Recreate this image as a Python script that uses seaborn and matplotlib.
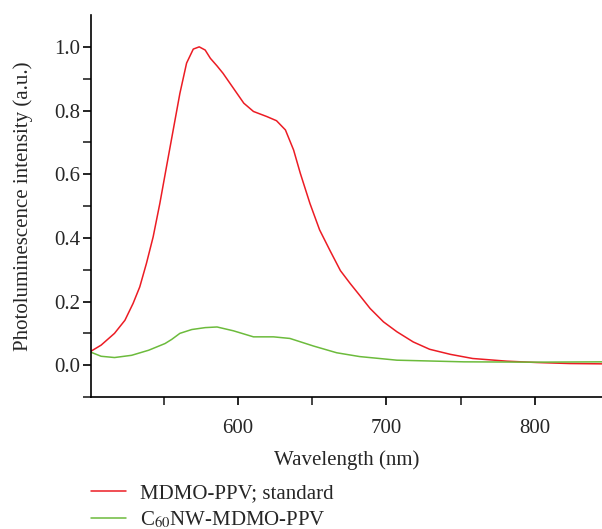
import numpy as np
import pandas as pd
import matplotlib
matplotlib.use("Agg")
import matplotlib.pyplot as plt
import seaborn as sns

# values
wl_std = [500.5, 508, 517, 524, 529.5, 534, 538.5, 543, 547.5, 552, 556.5, 561, 565.5,
          570, 574, 578, 581.5, 586, 590, 597, 604, 610.5, 619.5, 626, 632, 637.5, 642,
          648.5, 655, 662, 669, 675.5, 681, 689, 698, 707, 718, 729, 743, 758, 781, 801,
          823, 845]
pl_std = [0.042, 0.063, 0.10, 0.141, 0.194, 0.246, 0.32, 0.403, 0.508, 0.624, 0.739,
          0.854, 0.949, 0.993, 1.0, 0.99, 0.964, 0.94, 0.917, 0.87, 0.823, 0.797, 0.781,
          0.768, 0.739, 0.676, 0.603, 0.508, 0.425, 0.36, 0.297, 0.257, 0.225, 0.178,
          0.136, 0.105, 0.073, 0.05, 0.034, 0.021, 0.0126, 0.0084, 0.0052, 0.0042]

wl_nw = [500.5, 508, 517, 528.5, 540, 551, 555.5, 561, 569, 578, 586, 597, 610.5, 624,
         635, 651, 666.5, 682, 707, 752, 800, 845]
pl_nw = [0.042, 0.028, 0.024, 0.031, 0.047, 0.068, 0.081, 0.10, 0.112, 0.118, 0.12,
         0.108, 0.089, 0.089, 0.084, 0.06, 0.039, 0.027, 0.0157, 0.0105, 0.0095, 0.0105]

labels = ["MDMO-PPV; standard", "C$_{60}$NW-MDMO-PPV"]
colors = ["#ec1c24", "#6cbb3c"]

sns.set_style("ticks")
plt.rcParams["font.family"] = ["Liberation Serif", "DejaVu Serif"]
plt.rcParams["mathtext.fontset"] = "stix"

df = pd.concat([
    pd.DataFrame({"wl": wl_std, "pl": pl_std, "sample": labels[0]}),
    pd.DataFrame({"wl": wl_nw, "pl": pl_nw, "sample": labels[1]}),
])

fig = plt.figure(figsize=(6.02, 5.29), dpi=100)
ax = fig.add_axes([0.1507, 0.2495, 0.8493, 0.7221])
sns.lineplot(data=df, x="wl", y="pl", hue="sample", palette=colors,
             linewidth=1.1, ax=ax, legend=False)

ax.set_xlim(501, 845)
ax.set_ylim(-0.1, 1.1)
ax.set_xticks([600, 700, 800])
ax.set_xticks([550, 650, 750], minor=True)
ax.set_yticks([0.0, 0.2, 0.4, 0.6, 0.8, 1.0])
ax.set_yticks([-0.1, 0.1, 0.3, 0.5, 0.7, 0.9], minor=True)
ax.set_yticklabels(["0.0", "0.2", "0.4", "0.6", "0.8", "1.0"])
ax.tick_params(labelsize=15, width=1.2, length=6, color="black", direction="out")
ax.tick_params(which="minor", width=1.2, length=6)
ax.tick_params(axis="x", pad=10)
ax.tick_params(axis="y", pad=1.5)
ax.set_xlabel("Wavelength (nm)", fontsize=15, labelpad=8.5)
ax.set_ylabel("Photoluminescence intensity (a.u.)", fontsize=15, labelpad=15)
sns.despine(ax=ax)
for s in ["left", "bottom"]:
    ax.spines[s].set_linewidth(1.2)
    ax.spines[s].set_color("black")

handles = [plt.Line2D([], [], color=c, linewidth=1.1) for c in colors]
fig.legend(handles, labels, loc="lower left", bbox_to_anchor=(0.12, -0.037),
           frameon=False, fontsize=15, handlelength=1.7, handletextpad=0.65,
           labelspacing=0.3)

fig.savefig("out.png", dpi=100)
